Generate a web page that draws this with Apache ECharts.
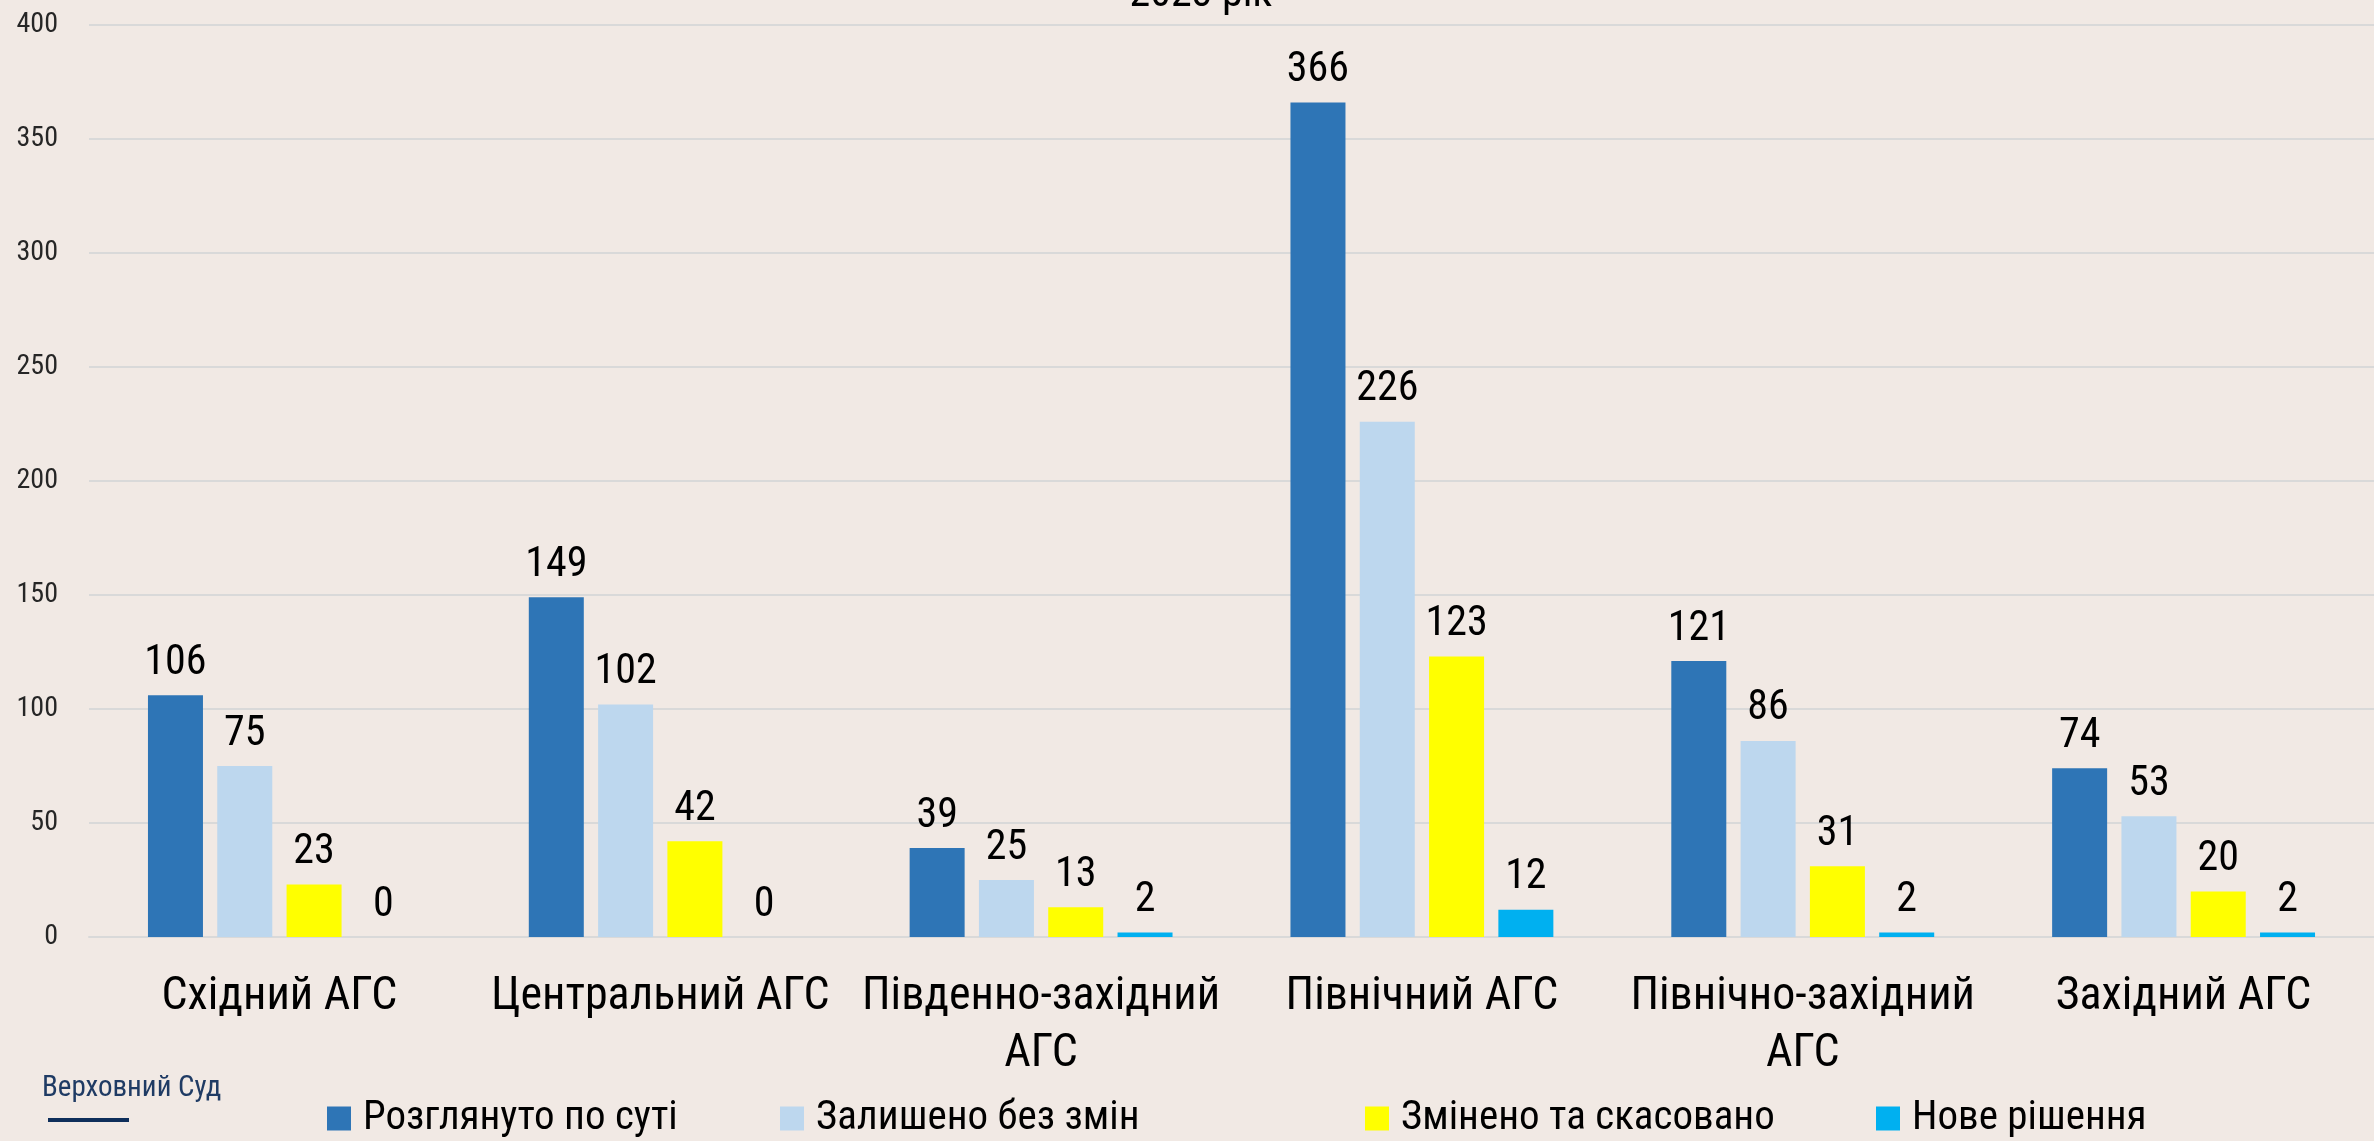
<!DOCTYPE html>
<html>
<head>
<meta charset="utf-8">
<script src="https://cdn.jsdelivr.net/npm/echarts@6/dist/echarts.min.js"></script>
<style>
  html, body { margin: 0; padding: 0; background: #f1e9e4; }
  #chart { width: 2374px; height: 1141px; }
</style>
</head>
<body>
<div id="chart"></div>
<script>
const categories = [
  'Східний АГС',
  'Центральний АГС',
  'Південно-західний\nАГС',
  'Північний АГС',
  'Північно-західний\nАГС',
  'Західний АГС',
]
const seriesNames = ['Розглянуто по суті', 'Залишено без змін', 'Змінено та скасовано', 'Нове рішення']
const reviewed = [106, 149, 39, 366, 121, 74]
const unchanged = [75, 102, 25, 226, 86, 53]
const changed = [23, 42, 13, 123, 31, 20]
const newDecision = [0, 0, 2, 12, 2, 2]
const colors = ['#2e75b6', '#bdd7ee', '#ffff00', '#00b0f0']

const FONT = "'Roboto Condensed', 'Liberation Sans Narrow', 'DejaVu Sans Condensed', Roboto, sans-serif"

const chart = echarts.init(document.getElementById('chart'))

// one legend per item, Excel spaces them unevenly
const legendLeft = [327, 780, 1365, 1876]
const legends = seriesNames.map((name, i) => ({
  data: [name],
  left: legendLeft[i],
  top: 1098,
  padding: 0,
  icon: 'rect',
  itemWidth: 24,
  itemHeight: 24,
  textStyle: { fontFamily: FONT, fontSize: 41, color: '#000', padding: [0, 0, 0, 7] },
}))

const makeSeries = (name, data, color) => ({
  name,
  type: 'bar',
  data,
  barWidth: 55,
  barGap: '26%',
  itemStyle: { color },
  label: {
    show: true,
    position: 'top',
    distance: 11,
    fontFamily: FONT,
    fontSize: 42,
    color: '#000',
  },
})

chart.setOption({
  backgroundColor: '#f1e9e4',
  animation: false,
  legend: legends,
  // plot runs a bit past the right edge of the picture
  grid: { left: 89, top: 25, width: 2296, height: 912, containLabel: false },
  xAxis: {
    type: 'category',
    data: categories,
    axisTick: { show: false },
    axisLine: { lineStyle: { color: '#d9d9d9', width: 2 } },
    axisLabel: {
      fontFamily: FONT,
      fontSize: 46,
      lineHeight: 57,
      color: '#000',
      margin: 32,
      interval: 0,
    },
  },
  yAxis: {
    type: 'value',
    min: 0,
    max: 400,
    interval: 50,
    axisLine: { show: false },
    axisTick: { show: false },
    splitLine: { lineStyle: { color: '#d9d9d9', width: 2 } },
    axisLabel: { fontFamily: FONT, fontSize: 28, color: '#262626', margin: 31 },
  },
  series: [
    makeSeries(seriesNames[0], reviewed, colors[0]),
    makeSeries(seriesNames[1], unchanged, colors[1]),
    makeSeries(seriesNames[2], changed, colors[2]),
    makeSeries(seriesNames[3], newDecision, colors[3]),
  ],
  graphic: [
    {
      type: 'text',
      x: 1201,
      y: -5,
      style: {
        text: '2023 рік',
        fontFamily: FONT,
        fontSize: 42,
        fill: '#000',
        align: 'center',
        verticalAlign: 'middle',
      },
    },
    {
      type: 'text',
      x: 42,
      y: 1089,
      style: {
        text: 'Верховний Суд',
        fontFamily: FONT,
        fontSize: 29,
        fill: '#1f3b64',
        align: 'left',
        verticalAlign: 'middle',
      },
    },
    {
      type: 'rect',
      shape: { x: 48, y: 1118, width: 81, height: 4 },
      style: { fill: '#0e2e5a' },
    },
  ],
})
</script>
</body>
</html>
